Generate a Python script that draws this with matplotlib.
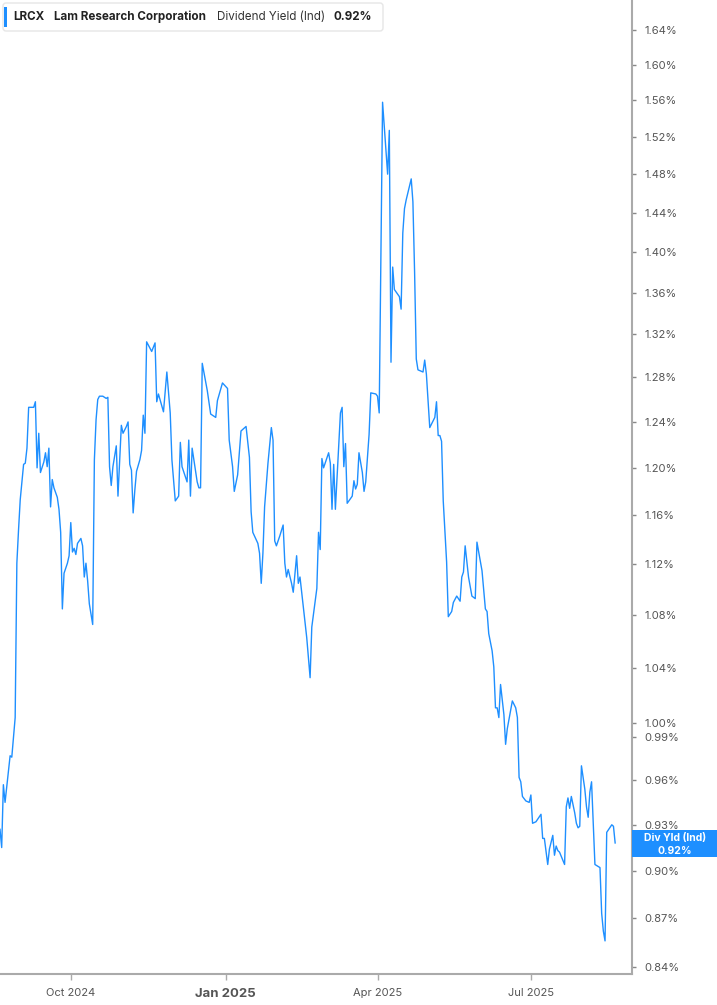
import pandas as pd
import matplotlib
matplotlib.use("Agg")
import matplotlib.pyplot as plt
from matplotlib.patches import FancyBboxPatch, Rectangle
from matplotlib.ticker import FixedLocator, FuncFormatter, NullLocator
from matplotlib.transforms import IdentityTransform

# LRCX indicated dividend yield, %
start_date = "2024-08-20"
day_offsets = [
    0, 1, 2, 3, 6, 7, 9, 10, 11, 12, 14, 15, 16, 17, 20, 21, 22, 23, 24, 26,
    27, 28, 29, 30, 31, 32, 34, 35, 36, 37, 38, 40, 41, 42, 43, 44, 45, 46, 48, 49,
    50, 51, 52, 53, 55, 56, 57, 58, 59, 61, 63, 64, 65, 66, 67, 69, 70, 71, 72, 73,
    75, 76, 77, 78, 79, 80, 81, 83, 84, 85, 86, 87, 88, 90, 92, 93, 94, 97, 99, 101,
    102, 104, 106, 107, 108, 111, 112, 113, 114, 117, 118, 119, 120, 123, 125, 128, 129, 132, 135, 136,
    138, 139, 141, 143, 146, 148, 149, 150, 153, 154, 155, 156, 157, 159, 161, 162, 163, 164, 166, 168,
    169, 170, 171, 173, 174, 176, 177, 178, 180, 182, 184, 185, 188, 189, 190, 191, 192, 195, 196, 197,
    198, 199, 201, 202, 203, 204, 205, 206, 209, 210, 211, 212, 213, 215, 216, 217, 219, 220, 223, 224,
    225, 227, 230, 231, 232, 233, 234, 237, 238, 239, 240, 241, 244, 245, 246, 247, 248, 251, 252, 253,
    255, 258, 259, 260, 261, 262, 263, 265, 266, 268, 269, 271, 273, 274, 275, 276, 278, 280, 282, 283,
    286, 288, 289, 290, 292, 293, 294, 295, 296, 297, 299, 300, 301, 304, 306, 307, 308, 309, 310, 312,
    314, 315, 316, 318, 321, 322, 323, 325, 326, 328, 329, 330, 331, 332, 335, 336, 337, 338, 339, 341,
    342, 343, 344, 345, 347, 348, 349, 350, 351, 353, 356, 357, 358, 359, 360, 363, 364, 365,
]
yield_pct = [
    0.927, 0.915, 0.957, 0.945, 0.977, 0.976, 1.004, 1.121, 1.148, 1.173,
    1.203, 1.204, 1.217, 1.253, 1.253, 1.258, 1.200, 1.230, 1.196, 1.205,
    1.213, 1.201, 1.217, 1.167, 1.190, 1.183, 1.175, 1.165, 1.146, 1.085,
    1.113, 1.121, 1.127, 1.154, 1.130, 1.133, 1.128, 1.137, 1.141, 1.135,
    1.110, 1.121, 1.107, 1.089, 1.073, 1.207, 1.242, 1.260, 1.263, 1.263,
    1.261, 1.262, 1.201, 1.185, 1.201, 1.219, 1.176, 1.207, 1.237, 1.230,
    1.236, 1.240, 1.203, 1.198, 1.162, 1.181, 1.197, 1.207, 1.215, 1.246,
    1.230, 1.313, 1.310, 1.304, 1.312, 1.258, 1.265, 1.249, 1.285, 1.248,
    1.207, 1.172, 1.176, 1.222, 1.201, 1.188, 1.224, 1.176, 1.217, 1.188,
    1.183, 1.183, 1.293, 1.268, 1.247, 1.244, 1.259, 1.275, 1.270, 1.224,
    1.201, 1.180, 1.194, 1.232, 1.236, 1.209, 1.163, 1.146, 1.137, 1.129,
    1.105, 1.129, 1.167, 1.204, 1.235, 1.224, 1.139, 1.135, 1.143, 1.152,
    1.121, 1.110, 1.116, 1.105, 1.098, 1.127, 1.105, 1.110, 1.086, 1.063,
    1.033, 1.071, 1.101, 1.146, 1.132, 1.208, 1.200, 1.213, 1.204, 1.165,
    1.203, 1.165, 1.220, 1.248, 1.253, 1.201, 1.221, 1.170, 1.176, 1.189,
    1.182, 1.186, 1.213, 1.196, 1.180, 1.188, 1.229, 1.266, 1.265, 1.263,
    1.248, 1.558, 1.480, 1.527, 1.294, 1.385, 1.363, 1.356, 1.344, 1.419,
    1.444, 1.453, 1.475, 1.451, 1.380, 1.297, 1.287, 1.285, 1.296, 1.283,
    1.235, 1.244, 1.258, 1.228, 1.228, 1.223, 1.172, 1.122, 1.079, 1.083,
    1.090, 1.095, 1.091, 1.110, 1.114, 1.135, 1.110, 1.095, 1.093, 1.138,
    1.115, 1.085, 1.083, 1.066, 1.053, 1.041, 1.011, 1.011, 1.004, 1.028,
    1.006, 0.985, 0.996, 1.016, 1.011, 1.004, 0.962, 0.959, 0.949, 0.946,
    0.945, 0.950, 0.931, 0.932, 0.937, 0.921, 0.921, 0.904, 0.914, 0.923,
    0.910, 0.916, 0.913, 0.912, 0.904, 0.942, 0.948, 0.941, 0.949, 0.938,
    0.931, 0.928, 0.929, 0.970, 0.954, 0.942, 0.935, 0.952, 0.959, 0.904,
    0.902, 0.873, 0.862, 0.856, 0.925, 0.930, 0.929, 0.918,
]

ytick_vals = [0.84, 0.87, 0.90, 0.93, 0.96, 0.99, 1.00, 1.04, 1.08, 1.12, 1.16,
              1.20, 1.24, 1.28, 1.32, 1.36, 1.40, 1.44, 1.48, 1.52, 1.56, 1.60, 1.64]
xtick_dates = ["2024-10-01", "2025-01-01", "2025-04-01", "2025-07-01"]
xtick_labels = ["Oct 2024", "Jan 2025", "Apr 2025", "Jul 2025"]

BLUE = "#1e8fff"
GREY = "#aaaaaa"
TEXT = "#555555"

plt.rcParams["font.family"] = ["Inter", "DejaVu Sans"]

W, H = 717, 1005
fig = plt.figure(figsize=(W / 100, H / 100), dpi=100)
ax = fig.add_axes([0, 31 / H, 632 / W, 974 / H])

dates = pd.Timestamp(start_date) + pd.to_timedelta(day_offsets, unit="D")
ax.plot(dates, yield_pct, color=BLUE, linewidth=1.0)

ax.set_yscale("log")
ax.set_ylim(0.836, 1.676)
ax.set_xlim(pd.Timestamp(start_date), pd.Timestamp("2025-08-30"))

ax.yaxis.tick_right()
ax.yaxis.set_major_locator(FixedLocator(ytick_vals))
ax.yaxis.set_minor_locator(NullLocator())
ax.yaxis.set_major_formatter(FuncFormatter(lambda v, _: f"{v:.2f}%"))
ax.tick_params(axis="y", length=3, width=1, color="#888888",
               labelsize=8, labelcolor=TEXT, pad=6)

ax.set_xticks(pd.to_datetime(xtick_dates))
ax.set_xticklabels(xtick_labels)
ax.tick_params(axis="x", length=4, width=1, color=GREY,
               labelsize=8, labelcolor=TEXT, pad=6)
for lbl in ax.get_xticklabels():
    if lbl.get_text().startswith("Jan"):
        lbl.set_fontweight("bold")
        lbl.set_fontsize(9.5)

for side in ("top", "left"):
    ax.spines[side].set_visible(False)
for side in ("right", "bottom"):
    ax.spines[side].set_color(GREY)
    ax.spines[side].set_linewidth(1.5)

# legend box, top left
px = IdentityTransform()
fig.add_artist(FancyBboxPatch((3, H - 31), 380, 28,
                              boxstyle="round,pad=0,rounding_size=3",
                              facecolor="white", edgecolor="#e6e6e6",
                              linewidth=1, transform=px))
fig.add_artist(Rectangle((4, H - 27), 3, 20, facecolor=BLUE,
                         edgecolor="none", transform=px))
legend_y = 1 - 17 / H
fig.text(13 / W, legend_y, "LRCX", fontsize=8.4, fontweight="bold",
         color="#222222", va="center")
fig.text(54 / W, legend_y, "Lam Research Corporation", fontsize=8.4,
         fontweight="bold", color="#222222", va="center")
fig.text(217 / W, legend_y, "Dividend Yield (Ind)", fontsize=8.4,
         color="#333333", va="center")
fig.text(334 / W, legend_y, "0.92%", fontsize=8.4, fontweight="bold",
         color="#222222", va="center")

# last value tag on the right axis
fig.add_artist(Rectangle((632, H - 857), 85, 27, facecolor=BLUE,
                         edgecolor="none", transform=px))
fig.text(675 / W, 1 - 838 / H, "Div Yld (Ind)", fontsize=7.5,
         fontweight="bold", color="white", ha="center", va="center")
fig.text(675 / W, 1 - 851 / H, "0.92%", fontsize=7.5,
         fontweight="bold", color="white", ha="center", va="center")

fig.savefig("out.png", dpi=100)
